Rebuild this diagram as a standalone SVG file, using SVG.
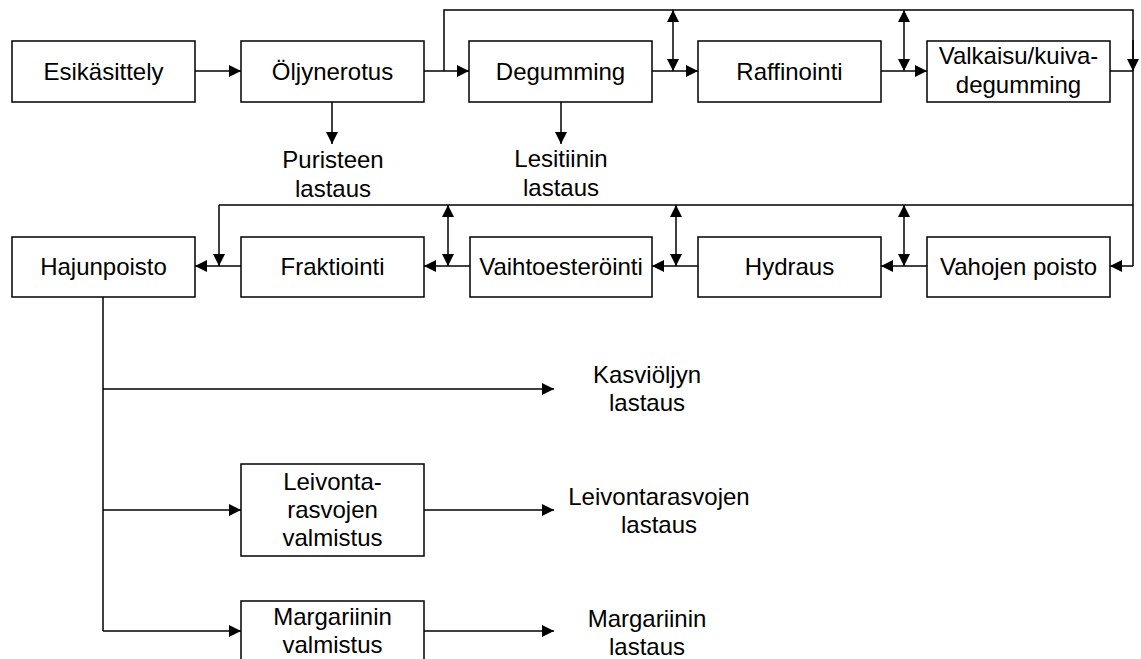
<svg xmlns="http://www.w3.org/2000/svg" width="1141" height="659" viewBox="0 0 1141 659">
  <style>
    .box { fill: #fff; stroke: #000; stroke-width: 1.5; }
    .lbl { font-family: "Liberation Sans", Arial, sans-serif; font-size: 24px; fill: #000; text-anchor: middle; }
    .ln { fill: none; stroke: #000; stroke-width: 1.5; }
    .arr { fill: none; stroke: #000; stroke-width: 1.5; marker-end: url(#ah); }
    .dbl { fill: none; stroke: #000; stroke-width: 1.5; marker-start: url(#ah); marker-end: url(#ah); }
  </style>
  <defs>
    <marker id="ah" viewBox="0 0 12 12" refX="12" refY="6" markerWidth="12" markerHeight="12" orient="auto-start-reverse" markerUnits="userSpaceOnUse">
      <path d="M0,0 L12,6 L0,12 z" fill="#000"/>
    </marker>
  </defs>
  <rect width="1141" height="659" fill="#fff"/>

  <!-- connectors -->
  <g id="connectors">
    <!-- row 1 -->
    <line class="arr" x1="195" y1="71" x2="241" y2="71"/>
    <line class="arr" x1="424" y1="71" x2="469" y2="71"/>
    <line class="arr" x1="652" y1="71" x2="698" y2="71"/>
    <line class="arr" x1="881" y1="71" x2="927" y2="71"/>
    <line class="arr" x1="332" y1="102" x2="332" y2="144"/>
    <line class="arr" x1="561" y1="102" x2="561" y2="144"/>
    <!-- top bypass line -->
    <polyline class="ln" points="444,71 444,10 1133,10 1133,266"/>
    <line class="ln" x1="1110" y1="71" x2="1133" y2="71"/>
    <line class="arr" x1="1133" y1="40" x2="1133" y2="71"/>
    <line class="dbl" x1="673" y1="10" x2="673" y2="71"/>
    <line class="dbl" x1="904" y1="10" x2="904" y2="71"/>
    <!-- row 2 -->
    <line class="arr" x1="1133" y1="266" x2="1110" y2="266"/>
    <line class="ln" x1="219" y1="205" x2="1133" y2="205"/>
    <line class="arr" x1="219" y1="205" x2="219" y2="266"/>
    <line class="arr" x1="241" y1="266" x2="195" y2="266"/>
    <line class="arr" x1="470" y1="266" x2="424" y2="266"/>
    <line class="arr" x1="698" y1="266" x2="652" y2="266"/>
    <line class="arr" x1="927" y1="266" x2="881" y2="266"/>
    <line class="dbl" x1="448" y1="205" x2="448" y2="266"/>
    <line class="dbl" x1="676" y1="205" x2="676" y2="266"/>
    <line class="dbl" x1="904" y1="205" x2="904" y2="266"/>
    <!-- product branches -->
    <line class="ln" x1="103" y1="297" x2="103" y2="631"/>
    <line class="arr" x1="103" y1="389" x2="554" y2="389"/>
    <line class="arr" x1="103" y1="510" x2="241" y2="510"/>
    <line class="arr" x1="103" y1="631" x2="241" y2="631"/>
    <line class="arr" x1="424" y1="510" x2="554" y2="510"/>
    <line class="arr" x1="424" y1="631" x2="554" y2="631"/>
  </g>

  <!-- row 1 nodes -->
  <g id="esikasittely">
    <rect class="box" x="12" y="41" width="183" height="61"/>
    <text class="lbl" x="103.5" y="80">Esikäsittely</text>
  </g>
  <g id="oljynerotus">
    <rect class="box" x="241" y="41" width="183" height="61"/>
    <text class="lbl" x="332.5" y="80">Öljynerotus</text>
  </g>
  <g id="degumming">
    <rect class="box" x="469" y="41" width="183" height="61"/>
    <text class="lbl" x="560.5" y="80">Degumming</text>
  </g>
  <g id="raffinointi">
    <rect class="box" x="698" y="41" width="183" height="61"/>
    <text class="lbl" x="789.5" y="80">Raffinointi</text>
  </g>
  <g id="valkaisu">
    <rect class="box" x="927" y="41" width="183" height="61"/>
    <text class="lbl" x="1018.5" y="64">Valkaisu/kuiva-</text>
    <text class="lbl" x="1018.5" y="93">degumming</text>
  </g>
  <g id="puristeen-lastaus">
    <text class="lbl" x="333" y="168">Puristeen</text>
    <text class="lbl" x="333" y="197">lastaus</text>
  </g>
  <g id="lesitiinin-lastaus">
    <text class="lbl" x="561" y="167">Lesitiinin</text>
    <text class="lbl" x="561" y="196">lastaus</text>
  </g>

  <!-- row 2 nodes -->
  <g id="hajunpoisto">
    <rect class="box" x="12" y="237" width="183" height="60"/>
    <text class="lbl" x="103.5" y="275">Hajunpoisto</text>
  </g>
  <g id="fraktiointi">
    <rect class="box" x="241" y="237" width="183" height="60"/>
    <text class="lbl" x="332.5" y="275">Fraktiointi</text>
  </g>
  <g id="vaihtoesterointi">
    <rect class="box" x="470" y="237" width="182" height="60"/>
    <text class="lbl" x="561" y="275">Vaihtoesteröinti</text>
  </g>
  <g id="hydraus">
    <rect class="box" x="698" y="237" width="183" height="60"/>
    <text class="lbl" x="789.5" y="275">Hydraus</text>
  </g>
  <g id="vahojen-poisto">
    <rect class="box" x="927" y="237" width="183" height="60"/>
    <text class="lbl" x="1018.5" y="275">Vahojen poisto</text>
  </g>

  <!-- products -->
  <g id="kasvioljyn-lastaus">
    <text class="lbl" x="647" y="383">Kasviöljyn</text>
    <text class="lbl" x="647" y="411">lastaus</text>
  </g>
  <g id="leivontarasvojen-valmistus">
    <rect class="box" x="241" y="464" width="183" height="92"/>
    <text class="lbl" x="332.5" y="490">Leivonta-</text>
    <text class="lbl" x="332.5" y="518">rasvojen</text>
    <text class="lbl" x="332.5" y="546">valmistus</text>
  </g>
  <g id="leivontarasvojen-lastaus">
    <text class="lbl" x="659" y="505">Leivontarasvojen</text>
    <text class="lbl" x="659" y="533">lastaus</text>
  </g>
  <g id="margariinin-valmistus">
    <rect class="box" x="241" y="601" width="183" height="62"/>
    <text class="lbl" x="332.5" y="625">Margariinin</text>
    <text class="lbl" x="332.5" y="653">valmistus</text>
  </g>
  <g id="margariinin-lastaus">
    <text class="lbl" x="647" y="627">Margariinin</text>
    <text class="lbl" x="647" y="655">lastaus</text>
  </g>
</svg>
